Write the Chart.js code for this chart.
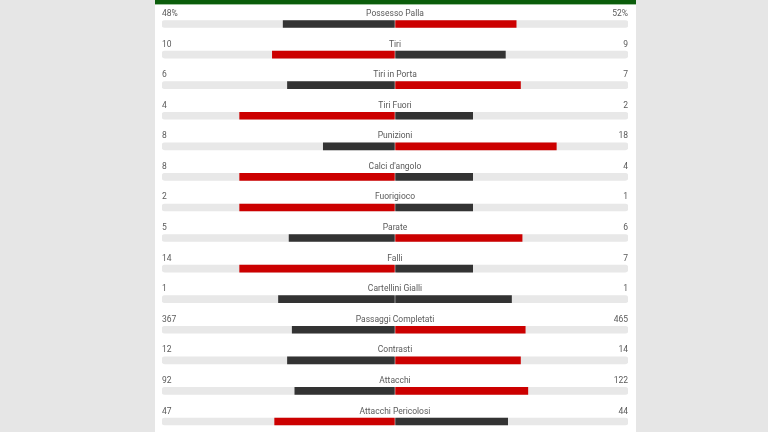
<!DOCTYPE html>
<html lang="it">
  <head>
    <meta charset="UTF-8" />
    <title>Statistiche Partita</title>
    <script src="https://cdn.jsdelivr.net/npm/chart.js"></script>
    <style>
      html, body {
        margin: 0;
        padding: 0;
        width: 768px;
        height: 432px;
        overflow: hidden;
        background: #e6e6e6;
      }
      #panel {
        position: absolute;
        left: 155px;
        top: 0;
        width: 481px;
        height: 440px;
        background: #fff;
      }
      #topbar {
        position: absolute;
        left: 0;
        top: 0;
        width: 481px;
        height: 4px;
        background: #0b5d0b;
        border-bottom: 1px solid #9cc29c;
        z-index: 2;
      }
      canvas {
        position: absolute;
        left: 0;
        top: 0;
      }
    </style>
  </head>
  <body>
    <div id="panel">
      <div id="topbar"></div>
      <canvas id="statsChart" width="481" height="440"></canvas>
    </div>

    <script>
      const categories = ['Possesso Palla', 'Tiri', 'Tiri in Porta', 'Tiri Fuori', 'Punizioni',
        "Calci d'angolo", 'Fuorigioco', 'Parate', 'Falli', 'Cartellini Gialli',
        'Passaggi Completati', 'Contrasti', 'Attacchi', 'Attacchi Pericolosi'];
      const homeValues = [48, 10, 6, 4, 8, 8, 2, 5, 14, 1, 367, 12, 92, 47];
      const awayValues = [52, 9, 7, 2, 18, 4, 1, 6, 7, 1, 465, 14, 122, 44];
      const percentRows = ['Possesso Palla'];

      const RED = '#cc0000';
      const DARK = '#333333';
      const TRACK = '#e8e8e8';
      const GAP = 0.25; // small white split in the middle

      // share of each side, so each half is filled in proportion
      const homeShare = homeValues.map((v, i) => v / (v + awayValues[i]) * 100);
      const awayShare = awayValues.map((v, i) => v / (homeValues[i] + v) * 100);

      const homeColors = homeValues.map((v, i) => v > awayValues[i] ? RED : DARK);
      const awayColors = awayValues.map((v, i) => v > homeValues[i] ? RED : DARK);

      const fmt = (v, i) => percentRows.includes(categories[i]) ? v + '%' : String(v);

      // labels above each bar: home value, stat name, away value
      const rowText = {
        id: 'rowText',
        afterDatasetsDraw(chart) {
          const { ctx, chartArea, scales } = chart;
          const mid = scales.x.getPixelForValue(0);
          ctx.save();
          ctx.font = '8.5px Roboto';
          ctx.fillStyle = '#5a5a5a';
          ctx.textBaseline = 'alphabetic';
          categories.forEach((name, i) => {
            const y = scales.y.getPixelForValue(i) - 8;
            ctx.textAlign = 'left';
            ctx.fillText(fmt(homeValues[i], i), chartArea.left, y);
            ctx.textAlign = 'center';
            ctx.fillText(name, mid, y);
            ctx.textAlign = 'right';
            ctx.fillText(fmt(awayValues[i], i), chartArea.right, y);
          });
          ctx.restore();
        }
      };

      const barCommon = {
        barThickness: 7,
        grouped: false,
        borderWidth: 0
      };

      new Chart(document.getElementById('statsChart'), {
        type: 'bar',
        data: {
          labels: categories,
          datasets: [
            {
              ...barCommon,
              label: 'home',
              data: homeShare.map(s => [-s, -GAP]),
              backgroundColor: homeColors,
              borderRadius: 0,
              order: 1
            },
            {
              ...barCommon,
              label: 'away',
              data: awayShare.map(s => [GAP, s]),
              backgroundColor: awayColors,
              borderRadius: 0,
              order: 1
            },
            {
              ...barCommon,
              label: 'trackL',
              data: categories.map(() => [-100, -GAP]),
              backgroundColor: TRACK,
              borderRadius: 3,
              borderSkipped: false,
              order: 2
            },
            {
              ...barCommon,
              label: 'trackR',
              data: categories.map(() => [GAP, 100]),
              backgroundColor: TRACK,
              borderRadius: 3,
              borderSkipped: false,
              order: 2
            }
          ]
        },
        options: {
          indexAxis: 'y',
          responsive: false,
          animation: false,
          devicePixelRatio: 1,
          layout: {
            padding: { left: 7, right: 8, top: 8.7, bottom: 3.2 }
          },
          plugins: {
            legend: { display: false },
            tooltip: { enabled: false }
          },
          scales: {
            x: { display: false, min: -100, max: 100 },
            y: { display: false, offset: true }
          }
        },
        plugins: [rowText]
      });
    </script>
  </body>
</html>
